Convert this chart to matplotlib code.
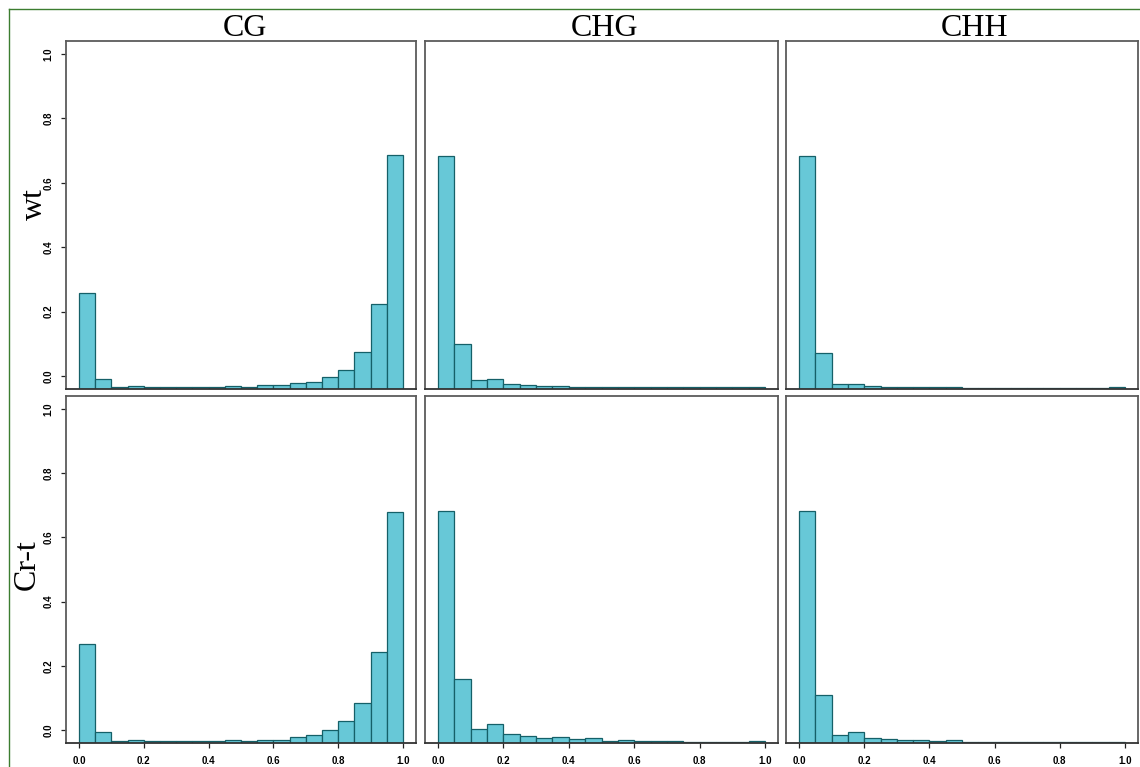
import numpy as np
import matplotlib
matplotlib.use("Agg")
import matplotlib.pyplot as plt
from matplotlib.lines import Line2D

# bin edges: 20 bins of width 0.05 on [0, 1]
bin_left = np.arange(20) * 0.05
bin_width = 0.05

col_names = ["CG", "CHG", "CHH"]
row_names = ["wt", "Cr-t"]

# bar tops (y axis units)
wt_CG = [0.259, -0.009, -0.033, -0.031, -0.034, -0.034, -0.035, -0.033, -0.035, -0.030,
         -0.033, -0.029, -0.029, -0.022, -0.017, -0.003, 0.020, 0.076, 0.224, 0.686]
wt_CHG = [0.684, 0.099, -0.011, -0.009, -0.024, -0.028, -0.032, -0.030, -0.034, -0.033,
          -0.035, -0.035, -0.035, -0.035, -0.035, -0.035, -0.035, -0.035, -0.035, -0.035]
wt_CHH = [0.684, 0.071, -0.026, -0.023, -0.031, -0.033, -0.035, -0.035, -0.035, -0.035,
          -0.036, -0.036, -0.036, -0.036, -0.036, -0.036, -0.036, -0.036, -0.036, -0.035]
crt_CG = [0.268, -0.007, -0.033, -0.031, -0.034, -0.034, -0.034, -0.034, -0.034, -0.031,
          -0.034, -0.031, -0.030, -0.022, -0.014, 0.000, 0.029, 0.086, 0.243, 0.680]
crt_CHG = [0.681, 0.159, 0.003, 0.019, -0.012, -0.017, -0.023, -0.020, -0.028, -0.024,
           -0.034, -0.030, -0.033, -0.034, -0.035, -0.036, -0.036, -0.036, -0.036, -0.034]
crt_CHH = [0.681, 0.109, -0.015, -0.007, -0.025, -0.027, -0.030, -0.030, -0.034, -0.032,
           -0.036, -0.036, -0.036, -0.036, -0.036, -0.036, -0.036, -0.036, -0.036, -0.036]

data = [[wt_CG, wt_CHG, wt_CHH], [crt_CG, crt_CHG, crt_CHH]]
ticks = [0.0, 0.2, 0.4, 0.6, 0.8, 1.0]
tick_labels = ["0.0", "0.2", "0.4", "0.6", "0.8", "1.0"]

W, H = 1140, 767
fig = plt.figure(figsize=(W / 100, H / 100), dpi=100)

# panel boxes in pixels (left, right) / (top, bottom)
col_px = [(66, 416), (425, 778), (786, 1138)]
row_px = [(41, 389), (396, 743)]
lo, hi = -0.04, 1.04

face = "#67c8d7"
edge = "#156068"
frame = "#5c5c5c"

for r in range(2):
    for c in range(3):
        x0, x1 = col_px[c]
        y0, y1 = row_px[r]
        ax = fig.add_axes([x0 / W, 1 - y1 / H, (x1 - x0) / W, (y1 - y0) / H])
        vals = np.array(data[r][c])
        ax.bar(bin_left, vals - lo, bottom=lo, width=bin_width, align="edge",
               color=face, edgecolor=edge, linewidth=0.9)
        ax.set_xlim(lo, hi)
        ax.set_ylim(lo, hi)
        for s in ax.spines.values():
            s.set_color(frame)
            s.set_linewidth(1.3)
        ax.spines["bottom"].set_color("#333333")
        if c == 0:
            ax.set_yticks(ticks)
            ax.set_yticklabels(tick_labels, rotation=90, va="center",
                               fontsize=7, fontweight="bold", family="Liberation Sans")
            ax.tick_params(axis="y", length=3.5, width=0.9, pad=5.5, color="#222222")
        else:
            ax.set_yticks([])
        if r == 1:
            ax.set_xticks(ticks)
            ax.set_xticklabels(tick_labels, fontsize=7, fontweight="bold",
                               family="Liberation Sans")
            ax.tick_params(axis="x", length=3.8, width=0.9, pad=5.5, color="#222222")
        else:
            ax.set_xticks([])

# column titles
title_x = [245, 605, 975]
for name, tx in zip(col_names, title_x):
    fig.text(tx / W, 1 - 36 / H, name, ha="center", va="baseline",
             fontsize=23, family="Liberation Serif")

# row labels
fig.text(42 / W, 1 - 204 / H, row_names[0], rotation=90, rotation_mode="anchor",
         ha="center", va="baseline", fontsize=23, family="Liberation Serif")
fig.text(35 / W, 1 - 565 / H, row_names[1], rotation=90, rotation_mode="anchor",
         ha="center", va="baseline", fontsize=23, family="Liberation Serif")

# thin green border at top and left
green = "#3c7d2f"
fig.add_artist(Line2D([9 / W, 1], [1 - 9 / H, 1 - 9 / H], color=green, lw=1.0,
                      transform=fig.transFigure))
fig.add_artist(Line2D([9 / W, 9 / W], [0, 1 - 9 / H], color=green, lw=1.0,
                      transform=fig.transFigure))

fig.savefig("out.png", dpi=100)
